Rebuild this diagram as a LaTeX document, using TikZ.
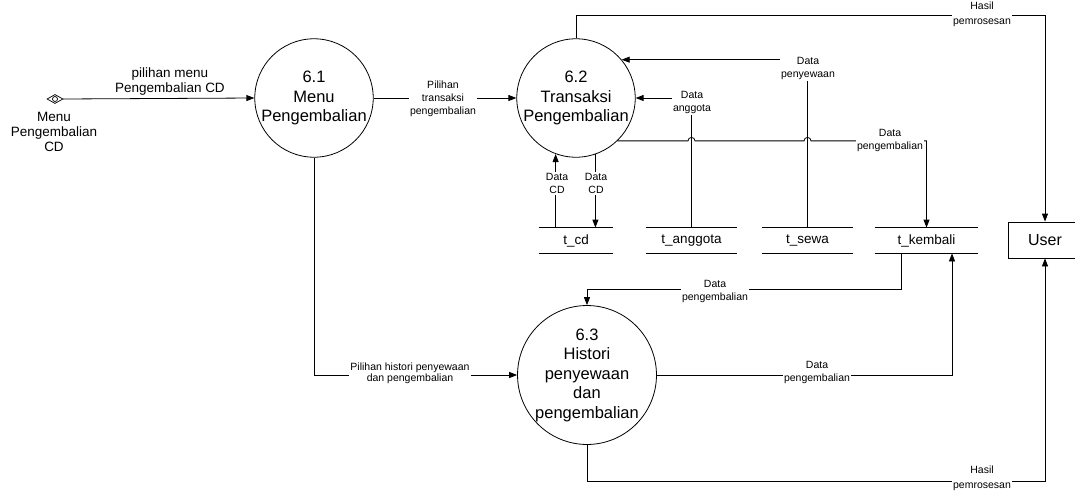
\documentclass[tikz,border=0pt]{standalone}
\usepackage{fontspec}
\setmainfont{Liberation Sans}
\usetikzlibrary{arrows.meta,calc}
\begin{document}
\begin{tikzpicture}[x=1pt,y=-1pt,line width=0.8pt,
  proc/.style={circle,draw,minimum size=#1,inner sep=0pt,align=center,font=\fontsize{16.5}{19.5}\selectfont},
  lbl/.style={fill=white,inner sep=1.5pt,align=center,font=\fontsize{10.5}{13}\selectfont},
  mlbl/.style={align=center,inner sep=1pt,font=\fontsize{13.5}{15}\selectfont},
  store/.style={minimum width=#1,minimum height=25pt,inner sep=0pt,font=\fontsize{13.5}{15}\selectfont},
  arr/.style={-{Triangle[length=8pt,width=6pt]}}]
\useasboundingbox (0,0) rectangle (1075,495);

% processes
\node[proc=109pt] (p1) at (314,98) {6.1\\Menu\\Pengembalian};
\node[proc=109pt] (p2) at (576,98) {6.2\\Transaksi\\Pengembalian};
\node[proc=125pt] (p3) at (587,375) {6.3\\Histori\\penyewaan\\dan\\pengembalian};

% external entity
\node[draw,minimum width=74pt,minimum height=36pt,inner sep=0pt,font=\fontsize{16}{19}\selectfont] (user) at (1045,240) {User};

% data stores
\node[store=74pt] (cd) at (576,240.5) {t\_cd};
\node[store=91pt] (ang) at (691.5,240.5) {t\_anggota};
\node[store=91pt] (sew) at (807.5,240.5) {t\_sewa};
\node[store=103pt] (kem) at (926.5,240.5) {t\_kembali};
\foreach \s in {cd,ang,sew,kem}{
  \draw (\s.north west) -- (\s.north east);
  \draw (\s.south west) -- (\s.south east);
}

% menu entry symbol
\node[minimum width=15pt,minimum height=8pt,inner sep=0pt] (ent) at (55,99) {};
\draw[line width=0.7pt] (ent.west) -- (ent.north) -- (ent.east) -- (ent.south) -- cycle;
\draw[line width=0.7pt] (ent.center) circle (2.5pt);
\node[mlbl] (entlbl) at (54,132) {Menu\\Pengembalian\\CD};

% flows
\draw[arr] (ent.east) -- (p1.west);
\node[mlbl] (l1) at (170,81.5) {pilihan menu\\Pengembalian CD};

\draw[arr] (p1.east) -- (p2.west);
\node[lbl] (l2) at (443,98.5) {Pilihan\\transaksi\\pengembalian};

\coordinate (top) at (0,15);
\draw[arr] (p2.north) |- (top -| user.north) -- (user.north);
\node[lbl,font=\fontsize{10.5}{14.5}\selectfont] (l3) at (982,14.5) {Hasil\\pemrosesan};

\draw[arr] (sew.north) |- (p2.40);
\node[lbl] (l4) at (808,68) {Data\\penyewaan};

\draw[arr] (ang.north) |- (p2.east);
\node[lbl] (l5) at (692,102) {Data\\anggota};

\path (p2.-46) coordinate (d0);
\coordinate (bA) at ($(ang.north)+(-3.5,0)$);
\coordinate (bB) at ($(sew.north)+(-3.5,0)$);
\draw[arr] (d0) -- (d0 -| bA) arc[start angle=180,end angle=0,radius=3.5pt]
  -- (d0 -| bB) arc[start angle=180,end angle=0,radius=3.5pt] -| (kem.north);
\node[lbl] (l6) at (890,140) {Data\\pengembalian};

\draw[arr] (cd.north -| p2.-110) -- (p2.-110);
\node[lbl] (l7) at (557,183.5) {Data\\CD};
\draw[arr] (p2.-71) -- (cd.north -| p2.-71);
\node[lbl] (l8) at (596,183.5) {Data\\CD};

\coordinate (kd) at ($(kem.south)+(-25.5,0)$);
\coordinate (ky) at (0,289);
\draw[arr] (kd) |- (ky -| p3.north) -- (p3.north);
\node[lbl] (l9) at (715,291.5) {Data\\pengembalian};

\coordinate (ku) at ($(kem.south)+(25.5,0)$);
\draw[arr] (p3.east) -| (ku);
\node[lbl] (l10) at (817,372.5) {Data\\pengembalian};

\coordinate (by) at (0,481);
\draw[arr] (p3.south) |- (by -| user.south) -- (user.south);
\node[lbl,font=\fontsize{10.5}{14.5}\selectfont] (l11) at (982,478.5) {Hasil\\pemrosesan};

\draw[arr] (p1.south) |- (p3.west);
\node[lbl,font=\fontsize{10.5}{11.5}\selectfont] (l12) at (410,373.5) {Pilihan histori penyewaan\\dan pengembalian};
\end{tikzpicture}
\end{document}
